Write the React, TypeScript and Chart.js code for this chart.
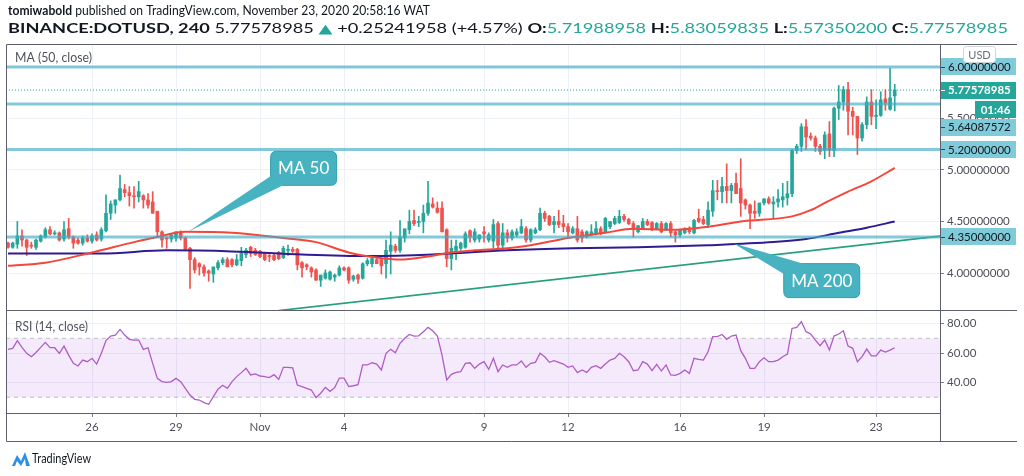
import React, { useEffect, useRef } from "react";
import { Chart, registerables } from "chart.js";

Chart.register(...registerables);

// ---------------- DATA (4h candles, index 0 = Oct 23 00:00) ----------------
const opens = [
  4.29, 4.25, 4.28, 4.36, 4.32, 4.27, 4.25, 4.31, 4.35, 4.42,
  4.38, 4.39, 4.33, 4.43, 4.35, 4.32, 4.29, 4.34, 4.31, 4.37,
  4.33, 4.41, 4.58, 4.66, 4.71, 4.81, 4.78, 4.75, 4.74, 4.75,
  4.71, 4.69, 4.60, 4.40, 4.34, 4.33, 4.34, 4.40, 4.34, 4.24,
  4.13, 4.09, 4.06, 4.02, 3.99, 4.05, 4.10, 4.13, 4.13, 4.08,
  4.12, 4.18, 4.25, 4.22, 4.21, 4.19, 4.17, 4.17, 4.20, 4.15,
  4.22, 4.23, 4.23, 4.10, 4.08, 4.05, 4.03, 3.93, 3.95, 3.94,
  3.96, 3.98, 4.05, 4.05, 3.94, 3.98, 3.95, 4.09, 4.09, 4.13,
  4.13, 4.09, 4.21, 4.26, 4.22, 4.34, 4.42, 4.51, 4.49, 4.50,
  4.58, 4.67, 4.63, 4.63, 4.42, 4.14, 4.22, 4.24, 4.25, 4.41,
  4.32, 4.33, 4.40, 4.32, 4.31, 4.48, 4.27, 4.39, 4.34, 4.37,
  4.39, 4.43, 4.32, 4.39, 4.42, 4.58, 4.55, 4.47, 4.50, 4.48,
  4.45, 4.39, 4.43, 4.40, 4.35, 4.37, 4.38, 4.43, 4.40, 4.45,
  4.48, 4.49, 4.55, 4.52, 4.48, 4.40, 4.43, 4.50, 4.49, 4.43,
  4.48, 4.42, 4.48, 4.40, 4.37, 4.39, 4.42, 4.39, 4.53, 4.52,
  4.47, 4.60, 4.80, 4.79, 4.84, 4.80, 4.87, 4.82, 4.71, 4.66,
  4.60, 4.58, 4.68, 4.72, 4.67, 4.69, 4.71, 4.73, 4.77, 5.19,
  5.23, 5.42, 5.33, 5.31, 5.23, 5.19, 5.35, 5.19, 5.60, 5.66,
  5.78, 5.57, 5.52, 5.31, 5.44, 5.66, 5.52, 5.53, 5.69, 5.59,
  5.71988958,
];
const highs = [
  4.30, 4.30, 4.50, 4.42, 4.33, 4.30, 4.33, 4.37, 4.44, 4.45,
  4.41, 4.40, 4.50, 4.53, 4.36, 4.34, 4.36, 4.37, 4.38, 4.40,
  4.44, 4.76, 4.70, 4.71, 4.95, 4.86, 4.84, 4.84, 4.89, 4.76,
  4.77, 4.79, 4.60, 4.41, 4.35, 4.38, 4.40, 4.41, 4.35, 4.25,
  4.15, 4.10, 4.08, 4.03, 4.04, 4.12, 4.15, 4.15, 4.14, 4.18,
  4.25, 4.24, 4.26, 4.24, 4.22, 4.20, 4.18, 4.19, 4.21, 4.26,
  4.27, 4.25, 4.24, 4.11, 4.09, 4.06, 4.04, 3.98, 4.03, 4.02,
  3.99, 4.07, 4.06, 4.06, 3.98, 3.99, 4.10, 4.14, 4.16, 4.15,
  4.14, 4.32, 4.40, 4.28, 4.51, 4.40, 4.61, 4.61, 4.55, 4.66,
  4.89, 4.73, 4.69, 4.69, 4.43, 4.32, 4.32, 4.30, 4.40, 4.42,
  4.43, 4.37, 4.45, 4.39, 4.52, 4.50, 4.48, 4.42, 4.42, 4.43,
  4.52, 4.45, 4.43, 4.44, 4.63, 4.60, 4.56, 4.55, 4.61, 4.56,
  4.48, 4.45, 4.55, 4.42, 4.41, 4.47, 4.50, 4.45, 4.54, 4.50,
  4.55, 4.61, 4.57, 4.53, 4.50, 4.46, 4.53, 4.52, 4.50, 4.49,
  4.50, 4.49, 4.50, 4.41, 4.42, 4.44, 4.45, 4.52, 4.62, 4.55,
  4.69, 4.90, 4.90, 4.93, 5.06, 4.87, 4.97, 5.11, 4.72, 4.67,
  4.70, 4.62, 4.72, 4.74, 4.74, 4.81, 4.87, 4.89, 5.20, 5.25,
  5.45, 5.49, 5.36, 5.33, 5.25, 5.37, 5.47, 5.61, 5.82, 5.81,
  5.85, 5.61, 5.52, 5.46, 5.71, 5.78, 5.68, 5.76, 5.78, 5.99,
  5.83059835,
];
const lows = [
  4.24, 4.24, 4.24, 4.26, 4.17, 4.24, 4.23, 4.30, 4.34, 4.37,
  4.37, 4.31, 4.31, 4.33, 4.24, 4.28, 4.27, 4.30, 4.29, 4.31,
  4.31, 4.40, 4.52, 4.58, 4.70, 4.74, 4.65, 4.63, 4.69, 4.63,
  4.63, 4.58, 4.35, 4.25, 4.24, 4.30, 4.31, 4.32, 4.23, 3.85,
  4.00, 3.98, 3.97, 3.92, 3.91, 4.03, 4.08, 4.06, 4.06, 4.07,
  4.07, 4.15, 4.16, 4.17, 4.15, 4.12, 4.11, 4.12, 4.13, 4.14,
  4.17, 4.20, 4.03, 3.96, 4.03, 3.96, 3.93, 3.87, 3.94, 3.93,
  3.92, 3.97, 4.02, 3.90, 3.92, 3.90, 3.94, 4.07, 4.06, 4.09,
  3.99, 3.95, 3.99, 4.20, 4.20, 4.30, 4.38, 4.46, 4.45, 4.39,
  4.56, 4.63, 4.58, 4.40, 4.06, 4.03, 4.13, 4.22, 4.24, 4.30,
  4.30, 4.30, 4.30, 4.30, 4.24, 4.22, 4.22, 4.30, 4.32, 4.35,
  4.38, 4.30, 4.30, 4.38, 4.41, 4.50, 4.46, 4.39, 4.44, 4.40,
  4.35, 4.38, 4.30, 4.30, 4.34, 4.36, 4.37, 4.37, 4.39, 4.43,
  4.47, 4.48, 4.50, 4.47, 4.35, 4.39, 4.42, 4.46, 4.41, 4.42,
  4.39, 4.41, 4.35, 4.30, 4.35, 4.38, 4.38, 4.38, 4.49, 4.47,
  4.44, 4.55, 4.71, 4.68, 4.68, 4.68, 4.78, 4.55, 4.62, 4.43,
  4.53, 4.55, 4.66, 4.67, 4.53, 4.64, 4.64, 4.66, 4.74, 5.16,
  5.18, 5.20, 5.29, 5.18, 5.15, 5.11, 5.13, 5.13, 5.49, 5.58,
  5.34, 5.34, 5.15, 5.28, 5.40, 5.44, 5.40, 5.52, 5.58, 5.58,
  5.573502,
];
const closes = [
  4.25, 4.29, 4.36, 4.32, 4.25, 4.26, 4.32, 4.36, 4.42, 4.38,
  4.39, 4.32, 4.42, 4.35, 4.29, 4.29, 4.34, 4.31, 4.36, 4.32,
  4.42, 4.58, 4.67, 4.71, 4.82, 4.78, 4.75, 4.74, 4.79, 4.71,
  4.66, 4.58, 4.40, 4.32, 4.33, 4.37, 4.40, 4.34, 4.23, 4.13,
  4.03, 4.06, 4.00, 4.00, 4.06, 4.10, 4.13, 4.06, 4.08, 4.13,
  4.19, 4.22, 4.19, 4.18, 4.16, 4.13, 4.16, 4.13, 4.14, 4.24,
  4.23, 4.21, 4.08, 4.05, 4.06, 4.01, 3.93, 3.98, 4.00, 4.01,
  3.98, 4.05, 4.03, 3.93, 3.97, 3.94, 4.09, 4.12, 4.14, 4.09,
  4.07, 4.22, 4.27, 4.22, 4.35, 4.43, 4.50, 4.48, 4.50, 4.58,
  4.68, 4.64, 4.59, 4.40, 4.14, 4.24, 4.26, 4.29, 4.38, 4.35,
  4.40, 4.37, 4.38, 4.37, 4.47, 4.27, 4.39, 4.34, 4.40, 4.40,
  4.45, 4.32, 4.42, 4.42, 4.58, 4.53, 4.47, 4.50, 4.47, 4.45,
  4.40, 4.43, 4.32, 4.34, 4.40, 4.40, 4.43, 4.39, 4.53, 4.50,
  4.53, 4.55, 4.52, 4.48, 4.42, 4.46, 4.50, 4.47, 4.42, 4.48,
  4.40, 4.48, 4.39, 4.37, 4.42, 4.43, 4.40, 4.51, 4.50, 4.48,
  4.61, 4.80, 4.79, 4.84, 4.80, 4.85, 4.77, 4.68, 4.66, 4.58,
  4.58, 4.68, 4.72, 4.68, 4.69, 4.72, 4.74, 4.77, 5.19, 5.23,
  5.42, 5.32, 5.31, 5.23, 5.18, 5.34, 5.19, 5.60, 5.66, 5.78,
  5.57, 5.52, 5.31, 5.44, 5.66, 5.52, 5.53, 5.68, 5.65, 5.70,
  5.77578985,
];
const rsiValues = [
  62.5, 63.2, 68.4, 63.8, 59.8, 57.5, 60.4, 63.8, 67.2, 63.6,
  63.6, 59.8, 64.7, 58.6, 53.0, 51.2, 55.2, 54.1, 56.4, 52.5,
  59.8, 68.4, 71.5, 72.2, 76.0, 72.2, 69.3, 68.8, 68.8, 62.5,
  63.6, 53.0, 42.8, 40.6, 40.1, 40.6, 42.8, 40.6, 36.0, 31.5,
  28.6, 28.1, 26.3, 25.2, 30.4, 35.4, 38.1, 36.0, 40.6, 44.0,
  46.7, 49.6, 45.1, 45.8, 44.4, 44.0, 43.3, 45.3, 42.1, 50.3,
  50.3, 50.0, 38.3, 37.2, 36.0, 34.9, 29.7, 32.7, 36.7, 34.0,
  36.5, 43.0, 43.0, 37.2, 37.8, 38.5, 51.9, 51.9, 53.4, 52.5,
  48.5, 59.8, 62.5, 60.2, 66.6, 70.0, 72.6, 71.5, 71.7, 74.5,
  77.4, 75.1, 71.5, 58.6, 41.7, 45.5, 46.9, 47.3, 53.0, 53.4,
  49.6, 52.5, 54.1, 48.9, 56.4, 47.3, 51.9, 50.3, 51.9, 51.9,
  54.6, 50.3, 53.0, 53.7, 59.8, 57.5, 53.7, 54.8, 53.7, 52.5,
  50.3, 51.2, 46.7, 48.5, 46.9, 50.3, 51.4, 49.6, 52.5, 55.2,
  56.4, 59.8, 57.5, 54.1, 48.0, 48.5, 54.1, 52.5, 48.0, 52.3,
  47.8, 51.9, 45.1, 44.9, 46.2, 48.5, 46.2, 56.4, 55.7, 55.2,
  60.9, 71.1, 71.1, 72.6, 69.3, 71.5, 72.2, 61.6, 56.4, 49.6,
  49.6, 54.1, 56.8, 54.1, 54.1, 55.2, 57.5, 59.3, 76.7, 77.4,
  81.2, 74.5, 72.9, 68.8, 65.0, 68.8, 62.0, 71.5, 72.9, 75.1,
  64.7, 63.2, 54.1, 57.5, 62.7, 58.0, 58.0, 62.0, 60.7, 62.0,
  63.6,
];
const ma50Idx = [0, 8, 18, 27, 32, 38, 48, 59, 66, 73, 79, 84, 90, 95, 100, 107, 112, 120, 128, 134, 142, 150, 157, 168, 172, 175, 180, 185, 190];
const ma50Val = [4.07, 4.10, 4.20, 4.30, 4.35, 4.40, 4.39, 4.34, 4.30, 4.20, 4.15, 4.13, 4.16, 4.20, 4.22, 4.24, 4.27, 4.34, 4.39, 4.43, 4.42, 4.45, 4.50, 4.55, 4.61, 4.68, 4.79, 4.89, 5.02];
const ma200Idx = [0, 20, 34, 48, 63, 77, 91, 107, 121, 135, 150, 164, 171, 178, 184, 190];
const ma200Val = [4.19, 4.19, 4.22, 4.21, 4.18, 4.165, 4.18, 4.22, 4.24, 4.25, 4.27, 4.30, 4.33, 4.39, 4.44, 4.50];
const trendIdx = [58, 200];
const trendVal = [3.635, 4.36];
const levelPrices = [6.0, 5.64087572, 5.2, 4.35];
const lastPrice = 5.77578985;
const countdownText = "01:46";
const priceTicks = [4.0, 4.5, 5.0, 5.5, 6.0];
const rsiTicks = [40, 60, 80];
const rsiBand = [70, 30];
const xTickIdx = [18, 36, 54, 72, 102, 120, 144, 162, 186];
const xTickLabels = ["26", "29", "Nov", "4", "9", "12", "16", "19", "23"];
const calloutTexts = ["MA 50", "MA 200"];
const calloutIdx = [38.6, 155.4];
const calloutPrice = [4.4, 4.29];

const header1 = [
  { t: "tomiwabold", b: true, c: "#131722" },
  { t: " published on TradingView.com, November 23, 2020 20:58:16 WAT", b: false, c: "#131722" },
];
const header2 = [
  { t: "BINANCE:DOTUSD, 240", b: true, c: "#131722" },
  { t: " 5.77578985 ", b: false, c: "#131722" },
  { t: "\u25B2", b: false, c: "#26a69a" },
  { t: " +0.25241958 (+4.57%) ", b: false, c: "#131722" },
  { t: "O:", b: true, c: "#131722" },
  { t: "5.71988958 ", b: false, c: "#26a69a" },
  { t: "H:", b: true, c: "#131722" },
  { t: "5.83059835 ", b: false, c: "#26a69a" },
  { t: "L:", b: true, c: "#131722" },
  { t: "5.57350200 ", b: false, c: "#26a69a" },
  { t: "C:", b: true, c: "#131722" },
  { t: "5.77578985", b: false, c: "#26a69a" },
];

// ---------------- STYLE ----------------
const FONT = "Lato, 'Open Sans', 'DejaVu Sans', sans-serif";
const UP = "#26a69a";
const DOWN = "#ef5350";
const GRID = "#edf0f5";
const TICKC = "#7b7e88";
const AXIS_TEXT = "#4c4f5a";
const FRAME = "#5d606b";
const LEVEL = "rgba(64, 172, 197, 0.65)";
const LABEL_CYAN = "#80cbd9";
const X_MIN = -0.43;
const X_MAX = 199.7;
const P_MIN = 3.641;
const P_MAX = 6.223;
const R_MIN = 19.3;
const R_MAX = 89.2;

type Seg = { t: string; b: boolean; c: string };

// draws text segments at a fixed font size, stretched horizontally to the given width
function drawRich(ctx: CanvasRenderingContext2D, segs: Seg[], x: number, y: number, width: number, size: number) {
  let total = 0;
  for (const s of segs) {
    ctx.font = `${s.b ? "bold " : ""}${size}px ${FONT}`;
    total += ctx.measureText(s.t).width;
  }
  const sx = width / total;
  ctx.save();
  ctx.translate(x, y);
  ctx.scale(sx, 1);
  let cx = 0;
  ctx.textAlign = "left";
  ctx.textBaseline = "middle";
  for (const s of segs) {
    ctx.font = `${s.b ? "bold " : ""}${size}px ${FONT}`;
    ctx.fillStyle = s.c;
    ctx.fillText(s.t, cx, 0);
    cx += ctx.measureText(s.t).width;
  }
  ctx.restore();
}

function rrect(ctx: CanvasRenderingContext2D, x: number, y: number, w: number, h: number, r: number) {
  ctx.beginPath();
  ctx.moveTo(x + r, y);
  ctx.lineTo(x + w - r, y);
  ctx.quadraticCurveTo(x + w, y, x + w, y + r);
  ctx.lineTo(x + w, y + h - r);
  ctx.quadraticCurveTo(x + w, y + h, x + w - r, y + h);
  ctx.lineTo(x + r, y + h);
  ctx.quadraticCurveTo(x, y + h, x, y + h - r);
  ctx.lineTo(x, y + r);
  ctx.quadraticCurveTo(x, y, x + r, y);
  ctx.closePath();
}

function hline(ctx: CanvasRenderingContext2D, x0: number, x1: number, y: number) {
  ctx.beginPath();
  ctx.moveTo(x0, y);
  ctx.lineTo(x1, y);
  ctx.stroke();
}
function vline(ctx: CanvasRenderingContext2D, x: number, y0: number, y1: number) {
  ctx.beginPath();
  ctx.moveTo(x, y0);
  ctx.lineTo(x, y1);
  ctx.stroke();
}

function priceBox(ctx: CanvasRenderingContext2D, y: number, text: string, bg: string, fg: string, bold: boolean) {
  ctx.fillStyle = bg;
  ctx.fillRect(941, Math.round(y - 8.5), 75, 17);
  ctx.strokeStyle = bold ? "#ffffff" : "#3d4150";
  ctx.lineWidth = 1;
  hline(ctx, 941, 945, Math.round(y) + 0.5);
  ctx.fillStyle = fg;
  ctx.font = `${bold ? "bold " : ""}11.5px ${FONT}`;
  ctx.textAlign = "left";
  ctx.textBaseline = "middle";
  ctx.fillText(text, 948, y + 0.5);
}

const decorPlugin = {
  id: "decor",
  afterDraw(chart: any) {
    const ctx: CanvasRenderingContext2D = chart.ctx;
    const ys = chart.scales.y;
    const xs = chart.scales.x;
    const ca = chart.chartArea;
    ctx.save();

    // header
    drawRich(ctx, header1, 8, 11, 422, 13);
    drawRich(ctx, header2, 8, 29, 1000, 13);

    // frame
    ctx.strokeStyle = FRAME;
    ctx.lineWidth = 1;
    const L = Math.floor(ca.left) + 0.5;
    const R = Math.floor(ca.right) + 0.5;
    const T = Math.floor(ca.top) + 0.5;
    const paneSep = Math.floor(ys.bottom) + 0.5;
    const rsiBottom = Math.floor(ca.bottom) + 0.5;
    const axisBottom = Math.floor(xs.bottom) + 0.5;
    hline(ctx, L, 1017, T);
    hline(ctx, L, 1017, paneSep);
    hline(ctx, L, R, rsiBottom);
    hline(ctx, L, 1017, axisBottom);
    vline(ctx, L, T, axisBottom);
    vline(ctx, R, T, axisBottom);

    // price labels
    const yLast = ys.getPixelForValue(lastPrice);
    priceBox(ctx, ys.getPixelForValue(levelPrices[0]), levelPrices[0].toFixed(8), LABEL_CYAN, "#131722", false);
    priceBox(ctx, yLast, lastPrice.toFixed(8), UP, "#ffffff", true);
    const cdTop = Math.round(yLast - 8.5) + 19;
    ctx.fillStyle = UP;
    ctx.fillRect(975, cdTop, 41, 17);
    ctx.fillStyle = "#ffffff";
    ctx.font = `bold 11.5px ${FONT}`;
    ctx.textAlign = "center";
    ctx.textBaseline = "middle";
    ctx.fillText(countdownText, 995.5, cdTop + 9);
    const y564 = Math.max(ys.getPixelForValue(levelPrices[1]), cdTop + 17 + 9);
    priceBox(ctx, y564, levelPrices[1].toFixed(8), LABEL_CYAN, "#131722", false);
    priceBox(ctx, ys.getPixelForValue(levelPrices[2]), levelPrices[2].toFixed(8), LABEL_CYAN, "#131722", false);
    priceBox(ctx, ys.getPixelForValue(levelPrices[3]), levelPrices[3].toFixed(8), LABEL_CYAN, "#131722", false);

    // USD box
    ctx.fillStyle = "#ffffff";
    rrect(ctx, 963.5, 46.5, 32, 16, 3);
    ctx.fill();
    ctx.strokeStyle = "#d1d4dc";
    ctx.stroke();
    ctx.fillStyle = "#6a6d78";
    ctx.font = `11px ${FONT}`;
    ctx.textAlign = "center";
    ctx.fillText("USD", 979.5, 55);

    // pane titles
    drawRich(ctx, [{ t: "MA (50, close)", b: false, c: "#50535e" }], 15, 58, 77, 12.5);
    drawRich(ctx, [{ t: "RSI (14, close)", b: false, c: "#50535e" }], 15, 327, 73, 12.5);

    // callouts
    const fill = "#47b3c1";
    const edge = "#2f9fb0";
    {
      const tx = xs.getPixelForValue(calloutIdx[0]);
      const ty = ys.getPixelForValue(calloutPrice[0]);
      const bx = tx + 82, by = ty - 81, bw = 66, bh = 34;
      ctx.fillStyle = fill;
      ctx.strokeStyle = edge;
      rrect(ctx, bx + 0.5, by + 0.5, bw, bh, 6);
      ctx.fill();
      ctx.stroke();
      ctx.beginPath();
      ctx.moveTo(tx, ty);
      ctx.lineTo(bx + 1, by + bh - 9);
      ctx.lineTo(bx + 14, by + bh);
      ctx.closePath();
      ctx.fill();
      ctx.fillStyle = "#ffffff";
      ctx.font = `17px ${FONT}`;
      ctx.textAlign = "center";
      ctx.textBaseline = "middle";
      ctx.fillText(calloutTexts[0], bx + bw / 2 + 0.5, by + bh / 2 + 1);
    }
    {
      const tx = xs.getPixelForValue(calloutIdx[1]);
      const ty = ys.getPixelForValue(calloutPrice[1]);
      const bx = tx + 50, by = ty + 20, bw = 76, bh = 34;
      ctx.fillStyle = fill;
      ctx.strokeStyle = edge;
      rrect(ctx, bx + 0.5, by + 0.5, bw, bh, 6);
      ctx.fill();
      ctx.stroke();
      ctx.beginPath();
      ctx.moveTo(tx, ty);
      ctx.lineTo(bx + 22, by + 1);
      ctx.lineTo(bx + 1, by + 11);
      ctx.closePath();
      ctx.fill();
      ctx.fillStyle = "#ffffff";
      ctx.font = `17px ${FONT}`;
      ctx.textAlign = "center";
      ctx.textBaseline = "middle";
      ctx.fillText(calloutTexts[1], bx + bw / 2 + 0.5, by + bh / 2 + 1);
    }

    // branding
    ctx.fillStyle = "#2d8fe8";
    ctx.beginPath();
    ctx.moveTo(12, 466);
    ctx.lineTo(17, 455);
    ctx.lineTo(21, 461);
    ctx.lineTo(25, 452);
    ctx.lineTo(30, 466);
    ctx.lineTo(26, 466);
    ctx.lineTo(25, 459);
    ctx.lineTo(21, 466);
    ctx.lineTo(17, 461);
    ctx.lineTo(15, 466);
    ctx.closePath();
    ctx.fill();
    drawRich(ctx, [{ t: "TradingView", b: false, c: "#131722" }], 32, 459, 59, 13);

    ctx.restore();
  },
};

export default function App() {
  const ref = useRef<HTMLCanvasElement | null>(null);

  useEffect(() => {
    if (!ref.current) return;
    const colors = closes.map((c, i) => (c >= opens[i] ? UP : DOWN));
    const wickData = closes.map((_, i) => ({ x: i, y: [lows[i], highs[i]] }));
    const bodyData = closes.map((c, i) => ({ x: i, y: [opens[i], c] }));
    const lineOf = (idx: number[], val: number[]) => idx.map((x, i) => ({ x, y: val[i] }));
    const flat = (v: number) => [
      { x: X_MIN, y: v },
      { x: X_MAX, y: v },
    ];

    const datasets: any[] = [
      {
        type: "line",
        data: flat(rsiBand[0]),
        yAxisID: "rsi",
        borderColor: "#bfbfc6",
        borderWidth: 1,
        borderDash: [4, 4],
        pointRadius: 0,
        fill: "+1",
        backgroundColor: "rgba(155, 61, 230, 0.11)",
        order: 20,
      },
      {
        type: "line",
        data: flat(rsiBand[1]),
        yAxisID: "rsi",
        borderColor: "#bfbfc6",
        borderWidth: 1,
        borderDash: [4, 4],
        pointRadius: 0,
        fill: false,
        order: 20,
      },
      {
        type: "bar",
        data: wickData,
        yAxisID: "y",
        backgroundColor: colors,
        barThickness: 1,
        grouped: false,
        borderWidth: 0,
        order: 12,
      },
      {
        type: "bar",
        data: bodyData,
        yAxisID: "y",
        backgroundColor: colors,
        barThickness: 3,
        minBarLength: 1,
        grouped: false,
        borderWidth: 0,
        order: 11,
      },
      {
        type: "line",
        data: lineOf(ma200Idx, ma200Val),
        yAxisID: "y",
        borderColor: "#311b92",
        borderWidth: 2,
        pointRadius: 0,
        cubicInterpolationMode: "monotone",
        order: 9,
      },
      {
        type: "line",
        data: lineOf(ma50Idx, ma50Val),
        yAxisID: "y",
        borderColor: "#f4473c",
        borderWidth: 2,
        pointRadius: 0,
        cubicInterpolationMode: "monotone",
        order: 8,
      },
      ...levelPrices.map((p) => ({
        type: "line",
        data: flat(p),
        yAxisID: "y",
        borderColor: LEVEL,
        borderWidth: 3,
        pointRadius: 0,
        order: 6,
      })),
      {
        type: "line",
        data: lineOf(trendIdx, trendVal),
        yAxisID: "y",
        borderColor: "#26a07f",
        borderWidth: 1.6,
        pointRadius: 0,
        order: 6,
      },
      {
        type: "line",
        data: flat(lastPrice),
        yAxisID: "y",
        borderColor: "#26a69a",
        borderWidth: 1,
        borderDash: [1, 2],
        pointRadius: 0,
        order: 5,
      },
      {
        type: "line",
        data: rsiValues.map((v, i) => ({ x: i, y: v })),
        yAxisID: "rsi",
        borderColor: "#b05cc7",
        borderWidth: 1.3,
        pointRadius: 0,
        order: 4,
      },
    ];

    const tickFont = { family: FONT, size: 11.5 };

    const chart = new Chart(ref.current, {
      type: "bar",
      data: { datasets },
      options: {
        responsive: false,
        animation: false,
        devicePixelRatio: 1,
        events: [],
        layout: { padding: { left: 6, top: 44, right: 7, bottom: 35 } },
        plugins: { legend: { display: false }, tooltip: { enabled: false } },
        scales: {
          x: {
            type: "linear",
            bounds: "data",
            min: X_MIN,
            max: X_MAX,
            offset: false,
            afterBuildTicks: (s: any) => {
              s.ticks = xTickIdx.map((v) => ({ value: v }));
            },
            afterFit: (s: any) => {
              s.height = 28;
            },
            ticks: {
              autoSkip: false,
              maxRotation: 0,
              padding: 3,
              font: tickFont,
              color: AXIS_TEXT,
              callback: (_v: any, i: number) => xTickLabels[i],
            },
            grid: { color: GRID, offset: false, tickLength: 4, tickColor: TICKC },
            border: { display: false },
          },
          y: {
            type: "linear",
            position: "right",
            stack: "panes",
            stackWeight: 266,
            bounds: "data",
            min: P_MIN,
            max: P_MAX,
            afterBuildTicks: (s: any) => {
              s.ticks = priceTicks.map((v) => ({ value: v }));
            },
            afterFit: (s: any) => {
              s.width = 77;
            },
            ticks: {
              padding: 3,
              font: tickFont,
              color: AXIS_TEXT,
              callback: (v: any) => Number(v).toFixed(8),
            },
            grid: { color: GRID, tickLength: 4, tickColor: TICKC },
            border: { display: false },
          },
          rsi: {
            type: "linear",
            position: "right",
            stack: "panes",
            stackWeight: 103,
            bounds: "data",
            min: R_MIN,
            max: R_MAX,
            afterBuildTicks: (s: any) => {
              s.ticks = rsiTicks.map((v) => ({ value: v }));
            },
            afterFit: (s: any) => {
              s.width = 77;
            },
            ticks: {
              padding: 3,
              font: tickFont,
              color: AXIS_TEXT,
              callback: (v: any) => Number(v).toFixed(2),
            },
            grid: { color: GRID, tickLength: 4, tickColor: TICKC },
            border: { display: false },
          },
        },
      } as any,
      plugins: [decorPlugin],
    });
    return () => chart.destroy();
  }, []);

  return (
    <div style={{ position: "absolute", left: 0, top: 0, width: 1024, height: 476, background: "#ffffff" }}>
      <canvas ref={ref} width={1024} height={476} style={{ display: "block", width: 1024, height: 476 }} />
    </div>
  );
}
